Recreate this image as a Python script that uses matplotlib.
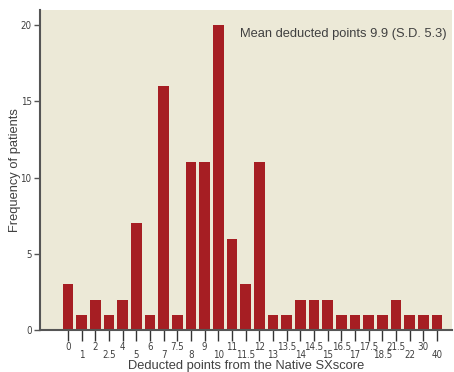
import matplotlib.pyplot as plt
import matplotlib.transforms as mtransforms
import numpy as np

# deducted points (categories) and number of patients in each
points = ['0', '1', '2', '2.5', '4', '5', '6', '7', '7.5', '8', '9', '10', '11', '11.5',
          '12', '13', '13.5', '14', '14.5', '15', '16.5', '17', '17.5', '18.5', '21.5',
          '22', '30', '40']
patients = [3, 1, 2, 1, 2, 7, 1, 16, 1, 11, 11, 20, 6, 3,
            11, 1, 1, 2, 2, 2, 1, 1, 1, 1, 2, 1, 1, 1]
y_ticks = [0, 5, 10, 15, 20]

bar_color = '#A61E23'
bg_color = '#ECE9D7'
spine_color = '#555555'
text_color = '#404040'
narrow = dict(family='DejaVu Sans', stretch='condensed')

fig = plt.figure(figsize=(4.54, 3.72), dpi=100)
ax = fig.add_axes([40 / 454, 42 / 372, 412 / 454, 320 / 372])
ax.set_facecolor(bg_color)

x = np.arange(len(points))
ax.bar(x, patients, width=0.8, color=bar_color)

ax.set_xlim(-2.05, len(points) - 1 + 1.1)
ax.set_ylim(0, 21)

ax.set_xticks(x)
ax.set_xticklabels(points, fontsize=7, color=text_color, **narrow)
ax.set_yticks(y_ticks)
ax.set_yticklabels([str(v) for v in y_ticks], fontsize=7, color=text_color, **narrow)
ax.tick_params(axis='x', length=8, width=1, color='#333333', pad=1)
ax.tick_params(axis='y', length=4, width=1, color=spine_color, pad=2)

# stagger every other category label downwards
shift = mtransforms.ScaledTranslation(0, -8 / 100, fig.dpi_scale_trans)
for i, lbl in enumerate(ax.get_xticklabels()):
    if i % 2 == 1:
        lbl.set_transform(lbl.get_transform() + shift)

for side in ['top', 'right']:
    ax.spines[side].set_visible(False)
for side in ['left', 'bottom']:
    ax.spines[side].set_color(spine_color)
    ax.spines[side].set_linewidth(1.5)

ax.set_xlabel('Deducted points from the Native SXscore', fontsize=9.3,
              family='Liberation Sans', color=text_color, va='center')
ax.xaxis.set_label_coords(0.5, -0.1125)
ax.set_ylabel('Frequency of patients', fontsize=9.3, family='Liberation Sans',
              color=text_color, va='center')
ax.yaxis.set_label_coords(-0.061, 0.5)

ax.text(0.485, 0.925, 'Mean deducted points 9.9 (S.D. 5.3)', transform=ax.transAxes,
        fontsize=9.3, family='Liberation Sans', color=text_color, va='center')

fig.savefig('out.png', dpi=100, facecolor='white')
